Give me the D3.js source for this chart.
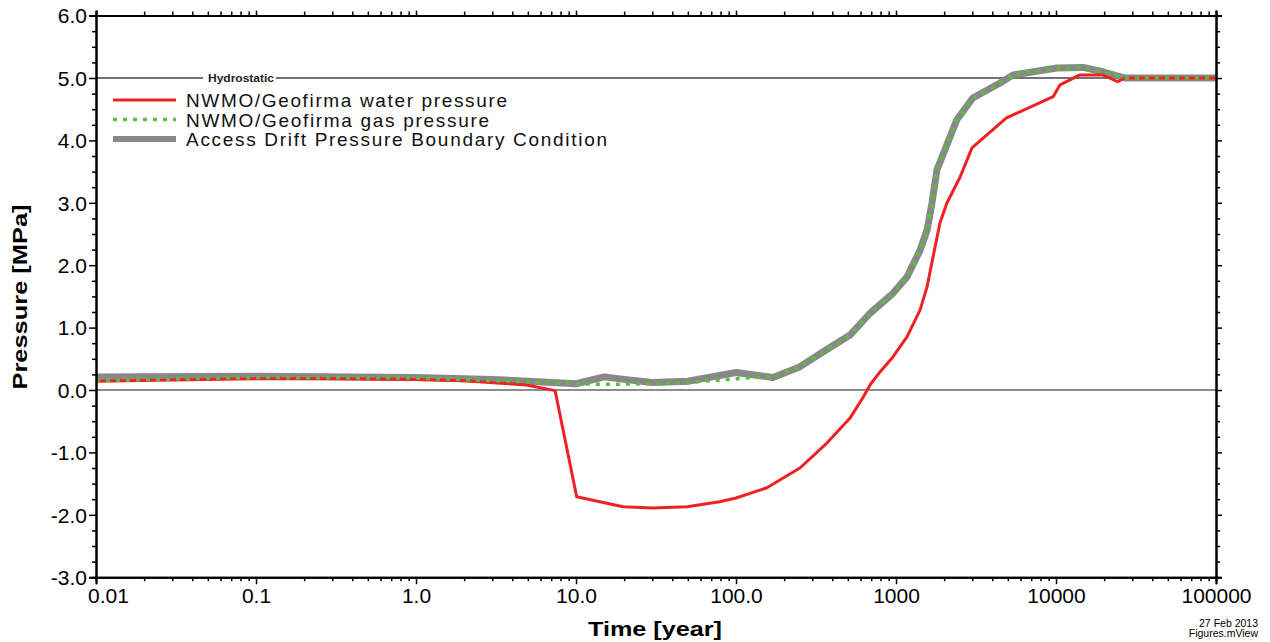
<!DOCTYPE html>
<html>
<head>
<meta charset="utf-8">
<script src="https://cdn.jsdelivr.net/npm/d3@7"></script>
<style>
  body { margin: 0; background: #fff; }
  svg { display: block; font-family: "Liberation Sans", Arial, sans-serif; }
</style>
</head>
<body>
<div id="chart"></div>
<script>
// time [year] and pressure [MPa]
const waterTime = [0.01, 0.03, 0.1, 0.3, 1, 2, 3.35, 4.9, 7.4, 10.1, 19.7, 30, 49.5, 79, 100, 155, 251, 370, 516, 622, 688, 794, 957, 1171, 1413, 1563, 1703, 1884, 2084, 2512, 2985, 4900, 9600, 10600, 14100, 19600, 24300, 27000, 100000];
const waterPressure = [0.14, 0.16, 0.18, 0.18, 0.17, 0.15, 0.11, 0.08, -0.01, -1.71, -1.87, -1.89, -1.87, -1.79, -1.73, -1.57, -1.25, -0.85, -0.45, -0.12, 0.08, 0.29, 0.53, 0.85, 1.28, 1.65, 2.13, 2.68, 3.0, 3.41, 3.88, 4.36, 4.7, 4.89, 5.05, 5.05, 4.94, 5.0, 5.0];

const boundaryTime = [0.01, 0.1, 1, 3, 5, 10, 15, 20, 30, 50, 100, 170, 250, 345, 516, 688, 957, 1171, 1413, 1563, 1679, 1803, 2023, 2400, 3020, 4467, 5400, 10140, 14800, 19600, 27000, 100000];
const boundaryPressure = [0.21, 0.22, 0.2, 0.17, 0.14, 0.1, 0.21, 0.17, 0.12, 0.14, 0.28, 0.2, 0.37, 0.6, 0.88, 1.23, 1.55, 1.81, 2.24, 2.56, 3.0, 3.53, 3.85, 4.33, 4.68, 4.92, 5.05, 5.16, 5.17, 5.1, 5.0, 5.0];

const gasTime = [0.01, 0.1, 1, 3, 5, 10, 15, 30, 50, 100, 170, 250, 345, 516, 688, 957, 1171, 1413, 1563, 1679, 1803, 2023, 2400, 3020, 4467, 5400, 10140, 14800, 19600, 27000, 100000];
const gasPressure = [0.15, 0.2, 0.19, 0.15, 0.13, 0.1, 0.09, 0.1, 0.12, 0.18, 0.22, 0.37, 0.6, 0.88, 1.23, 1.55, 1.81, 2.24, 2.56, 3.0, 3.53, 3.85, 4.33, 4.68, 4.92, 5.05, 5.16, 5.17, 5.1, 5.0, 5.0];

const xTickValues = [0.01, 0.1, 1, 10, 100, 1000, 10000, 100000];
const xTickLabels = ["0.01", "0.1", "1.0", "10.0", "100.0", "1000", "10000", "100000"];
const yTickValues = [-3, -2, -1, 0, 1, 2, 3, 4, 5, 6];
const hydrostaticLevels = [0, 5];

const legendNames = ["NWMO/Geofirma  water  pressure", "NWMO/Geofirma  gas  pressure", "Access  Drift  Pressure  Boundary  Condition"];

const W = 1270, H = 642;
const mLeft = 96, mRight = 1216, mTop = 15.6, mBottom = 577.2;

const svg = d3.select("#chart").append("svg")
    .attr("width", W)
    .attr("height", H);

const x = d3.scaleLog().domain([0.01, 100000]).range([mLeft, mRight]);
const y = d3.scaleLinear().domain([-3, 6]).range([mBottom, mTop]);

// minor ticks: 2..9 in every decade, quarter steps on y
const xMinor = [];
for (let d = -2; d < 5; d++) {
    for (let k = 2; k <= 9; k++) xMinor.push(k * Math.pow(10, d));
}
const yMinor = d3.range(-3, 6.001, 0.25).filter(v => Math.abs(v - Math.round(v)) > 0.01);

// reference lines
svg.append("line")
    .attr("x1", mLeft).attr("x2", mRight)
    .attr("y1", y(hydrostaticLevels[0])).attr("y2", y(hydrostaticLevels[0]))
    .attr("stroke", "#8c8c8c").attr("stroke-width", 2);

svg.append("line")
    .attr("x1", mLeft).attr("x2", 203)
    .attr("y1", y(hydrostaticLevels[1])).attr("y2", y(hydrostaticLevels[1]))
    .attr("stroke", "#444").attr("stroke-width", 1.3);
svg.append("line")
    .attr("x1", 276).attr("x2", mRight)
    .attr("y1", y(hydrostaticLevels[1])).attr("y2", y(hydrostaticLevels[1]))
    .attr("stroke", "#444").attr("stroke-width", 1.3);
svg.append("text")
    .attr("x", 208).attr("y", y(hydrostaticLevels[1]) + 4)
    .attr("font-size", 11).attr("font-weight", "bold").attr("fill", "#222")
    .attr("textLength", 66).attr("lengthAdjust", "spacingAndGlyphs")
    .text("Hydrostatic");

// curves
const line = d3.line()
    .x(d => x(d[0]))
    .y(d => y(d[1]));

const boundaryData = boundaryTime.map((t, i) => [t, boundaryPressure[i]]);
const waterData = waterTime.map((t, i) => [t, waterPressure[i]]);
const gasData = gasTime.map((t, i) => [t, gasPressure[i]]);

svg.append("path")
    .attr("d", line(boundaryData))
    .attr("fill", "none").attr("stroke", "#888").attr("stroke-width", 7)
    .attr("stroke-linejoin", "round");

svg.append("path")
    .attr("d", line(waterData))
    .attr("fill", "none").attr("stroke", "#ee2224").attr("stroke-width", 3)
    .attr("stroke-linejoin", "round");

svg.append("path")
    .attr("d", line(gasData))
    .attr("fill", "none").attr("stroke", "#5cbd3a").attr("stroke-width", 3.5)
    .attr("stroke-dasharray", "4,6");

// axes
const yFmt = d => d.toFixed(1);   // plain hyphen minus, as in the original
const yAxisL = svg.append("g")
    .attr("transform", `translate(${mLeft},0)`)
    .call(d3.axisLeft(y).tickValues(yTickValues).tickSize(7).tickFormat(yFmt));
svg.append("g")
    .attr("transform", `translate(${mLeft},0)`)
    .call(d3.axisLeft(y).tickValues(yMinor).tickSize(4).tickFormat(""));
svg.append("g")
    .attr("transform", `translate(${mRight},0)`)
    .call(d3.axisRight(y).tickValues(yTickValues).tickSize(6).tickFormat(""));
svg.append("g")
    .attr("transform", `translate(${mRight},0)`)
    .call(d3.axisRight(y).tickValues(yMinor).tickSize(4).tickFormat(""));

const xAxisB = svg.append("g")
    .attr("transform", `translate(0,${mBottom})`)
    .call(d3.axisBottom(x).tickValues(xTickValues).tickSize(7)
        .tickFormat((d, i) => xTickLabels[i]));
svg.append("g")
    .attr("transform", `translate(0,${mBottom})`)
    .call(d3.axisBottom(x).tickValues(xMinor).tickSize(4).tickFormat(""));
svg.append("g")
    .attr("transform", `translate(0,${mTop})`)
    .call(d3.axisTop(x).tickValues(xTickValues).tickSize(5).tickFormat(""));
svg.append("g")
    .attr("transform", `translate(0,${mTop})`)
    .call(d3.axisTop(x).tickValues(xMinor).tickSize(4).tickFormat(""));

svg.selectAll(".domain").attr("stroke", "#000").attr("stroke-width", 2);
svg.selectAll(".tick line").attr("stroke", "#000").attr("stroke-width", 1.5);

yAxisL.selectAll(".tick text")
    .attr("font-size", 21).attr("fill", "#000")
    .attr("x", -9).attr("dy", "0.35em")
    .style("font-family", "Liberation Sans, Arial, sans-serif");
xAxisB.selectAll(".tick text")
    .attr("font-size", 21).attr("fill", "#000")
    .attr("y", 11).attr("dy", "0.71em")
    .attr("dx", (d, i) => i === 0 ? 12 : 0)
    .style("font-family", "Liberation Sans, Arial, sans-serif");

// axis titles
svg.append("text")
    .attr("x", 655).attr("y", 636)
    .attr("text-anchor", "middle")
    .attr("font-size", 21).attr("font-weight", "bold")
    .attr("textLength", 134).attr("lengthAdjust", "spacingAndGlyphs")
    .text("Time  [year]");

svg.append("text")
    .attr("transform", "translate(27,297) rotate(-90)")
    .attr("text-anchor", "middle")
    .attr("font-size", 21).attr("font-weight", "bold")
    .attr("textLength", 185).attr("lengthAdjust", "spacingAndGlyphs")
    .text("Pressure  [MPa]");

// legend
const legendStyles = [
    { stroke: "#ee2224", width: 3, dash: null },
    { stroke: "#5cbd3a", width: 3.5, dash: "4,6" },
    { stroke: "#888", width: 6, dash: null }
];
const legendLengths = [321, 303, 421];
const legend = svg.append("g");
legendNames.forEach((name, i) => {
    const yy = 100 + i * 19.5;
    legend.append("line")
        .attr("x1", 113).attr("x2", 176)
        .attr("y1", yy).attr("y2", yy)
        .attr("stroke", legendStyles[i].stroke)
        .attr("stroke-width", legendStyles[i].width)
        .attr("stroke-dasharray", legendStyles[i].dash);
    legend.append("text")
        .attr("x", 186).attr("y", yy + 7)
        .attr("font-size", 19).attr("fill", "#111")
        .attr("textLength", legendLengths[i]).attr("lengthAdjust", "spacing")
        .text(name);
});

// stamp
svg.append("text")
    .attr("x", 1258).attr("y", 627)
    .attr("text-anchor", "end").attr("font-size", 10.5)
    .text("27  Feb  2013");
svg.append("text")
    .attr("x", 1258).attr("y", 637)
    .attr("text-anchor", "end").attr("font-size", 10.5)
    .text("Figures.mView");
</script>
</body>
</html>
